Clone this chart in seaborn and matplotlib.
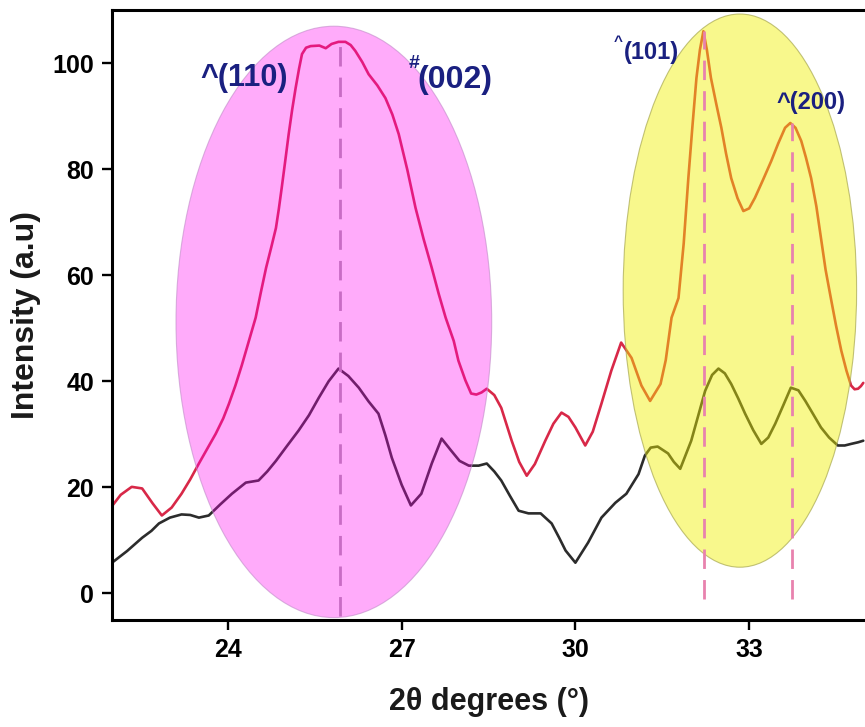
import numpy as np
import pandas as pd
import matplotlib
matplotlib.use("Agg")
import matplotlib.pyplot as plt
from matplotlib.patches import Ellipse
import seaborn as sns

# upper (red) pattern
red_x = [21.98, 22.15, 22.34, 22.52, 22.70, 22.86, 23.03, 23.20, 23.35, 23.50, 23.65, 23.79, 23.92,
         24.02, 24.13, 24.24, 24.36, 24.48, 24.57, 24.66, 24.75, 24.83, 24.88, 24.93, 24.99, 25.05,
         25.11, 25.17, 25.23, 25.28, 25.35, 25.43, 25.58, 25.69, 25.79, 25.91, 26.03, 26.12, 26.20,
         26.32, 26.43, 26.58, 26.72, 26.84, 26.95, 27.10, 27.24, 27.38, 27.52, 27.64, 27.76, 27.90,
         27.98, 28.10, 28.20, 28.29, 28.38, 28.47, 28.60, 28.72, 28.90, 29.03, 29.16, 29.30, 29.48,
         29.62, 29.76, 29.88, 30.00, 30.17, 30.30, 30.45, 30.62, 30.79, 30.97, 31.14, 31.29, 31.47,
         31.56, 31.66, 31.78, 31.87, 31.95, 32.02, 32.09, 32.15, 32.21, 32.27, 32.34, 32.43, 32.52,
         32.60, 32.69, 32.80, 32.90, 33.00, 33.10, 33.24, 33.38, 33.50, 33.62, 33.71, 33.80, 33.90,
         33.98, 34.07, 34.16, 34.24, 34.32, 34.41, 34.50, 34.59, 34.68, 34.76, 34.82, 34.88, 34.93,
         34.97]
red_y = [16.2, 18.6, 20.1, 19.8, 17.0, 14.7, 16.2, 18.8, 21.5, 24.5, 27.4, 30.1, 33.0,
         35.8, 39.2, 43.0, 47.5, 52.0, 56.8, 61.4, 65.3, 68.9, 72.5, 76.5, 81.5, 86.6,
         91.2, 95.3, 99.0, 101.7, 102.9, 103.2, 103.3, 102.8, 103.6, 104.0, 104.0, 103.4, 102.3,
         100.2, 97.9, 95.8, 93.4, 90.3, 86.6, 79.8, 72.7, 66.8, 61.4, 56.5, 52.0, 47.6,
         43.9, 40.2, 37.7, 37.5, 37.9, 38.6, 37.4, 35.0, 28.8, 24.8, 22.2, 24.4, 28.8,
         32.0, 34.1, 33.3, 31.3, 27.9, 30.5, 35.8, 42.0, 47.3, 44.4, 39.2, 36.3, 39.5,
         44.0, 52.0, 55.7, 66.0, 78.3, 88.0, 97.2, 102.5, 106.0, 102.5, 97.2, 92.4, 87.8,
         83.0, 78.3, 74.5, 72.1, 72.6, 74.6, 78.0, 81.5, 84.8, 87.8, 88.7, 87.8, 85.3,
         82.2, 78.3, 73.0, 67.0, 61.0, 55.7, 50.5, 45.8, 42.0, 39.2, 38.5, 38.6, 39.1,
         39.7]

# lower (black) pattern
black_x = [22.00, 22.26, 22.52, 22.68, 22.81, 23.00, 23.20, 23.35, 23.50, 23.67, 23.87, 24.07, 24.31,
           24.53, 24.68, 24.83, 25.02, 25.22, 25.40, 25.57, 25.74, 25.91, 26.08, 26.26, 26.43, 26.60,
           26.72, 26.83, 27.00, 27.16, 27.34, 27.52, 27.69, 27.85, 28.00, 28.16, 28.33, 28.47, 28.60,
           28.72, 28.87, 29.02, 29.19, 29.40, 29.59, 29.72, 29.83, 30.00, 30.22, 30.45, 30.69, 30.88,
           31.09, 31.20, 31.30, 31.42, 31.60, 31.70, 31.81, 32.00, 32.12, 32.24, 32.36, 32.47, 32.58,
           32.69, 32.81, 32.93, 33.07, 33.21, 33.33, 33.45, 33.59, 33.72, 33.85, 33.97, 34.10, 34.24,
           34.38, 34.53, 34.65, 34.76, 34.88, 34.97]
black_y = [5.8, 8.0, 10.5, 11.8, 13.2, 14.3, 14.9, 14.8, 14.3, 14.7, 16.8, 18.8, 20.9,
           21.3, 23.0, 25.0, 27.8, 30.7, 33.6, 36.9, 40.0, 42.4, 41.0, 38.8, 36.2, 33.9,
           29.8, 25.6, 20.5, 16.6, 18.8, 24.5, 29.2, 27.0, 25.0, 24.1, 24.1, 24.5, 23.0,
           21.3, 18.4, 15.6, 15.1, 15.1, 13.2, 10.5, 8.1, 5.8, 9.6, 14.3, 17.1, 18.8,
           22.5, 26.0, 27.5, 27.7, 26.4, 24.8, 23.5, 28.8, 33.5, 38.2, 41.2, 42.4, 41.5,
           39.5, 36.8, 33.9, 30.8, 28.2, 29.4, 32.0, 35.5, 38.8, 38.3, 36.3, 33.9, 31.3,
           29.4, 27.9, 27.9, 28.2, 28.5, 28.8]

peak_labels = ["^(110)", "#", "(002)", "^", "(101)", "^(200)"]
peak_lines = [25.93, 32.22, 33.74]

red_df = pd.DataFrame({"two_theta": red_x, "intensity": red_y})
black_df = pd.DataFrame({"two_theta": black_x, "intensity": black_y})

sns.set_theme(style="ticks")
plt.rcParams["font.family"] = ["Liberation Sans", "DejaVu Sans"]
plt.rcParams["font.weight"] = "bold"
plt.rcParams["lines.solid_joinstyle"] = "round"

fig = plt.figure(figsize=(8.65, 7.27), dpi=100)
ax = fig.add_axes([0.1295, 0.1472, 0.8705, 0.839])

sns.lineplot(data=red_df, x="two_theta", y="intensity", color="#d82848", lw=1.9,
             estimator=None, sort=False, ax=ax, zorder=2)
sns.lineplot(data=black_df, x="two_theta", y="intensity", color="#2c2c2c", lw=1.9,
             estimator=None, sort=False, ax=ax, zorder=2)

# shaded regions over the peaks
ax.add_patch(Ellipse((25.83, 51.2), 5.45, 111.5, facecolor="#ff00f0", alpha=0.33,
                     edgecolor="none", zorder=3))
ax.add_patch(Ellipse((25.83, 51.2), 5.45, 111.5, facecolor="none", edgecolor="#c08ac8",
                     lw=0.8, alpha=0.6, zorder=3))
ax.add_patch(Ellipse((32.84, 57.1), 4.03, 104.3, facecolor="#f0f000", alpha=0.45,
                     edgecolor="none", zorder=3))
ax.add_patch(Ellipse((32.84, 57.1), 4.03, 104.3, facecolor="none", edgecolor="#a8a850",
                     lw=0.8, alpha=0.7, zorder=3))

# dashed peak markers
ax.plot([peak_lines[0]] * 2, [-4.2, 103.8], color="#c86cc4", lw=2.0, dashes=(7, 4), zorder=4)
ax.plot([peak_lines[1]] * 2, [-1.0, 106.0], color="#e882ae", lw=2.0, dashes=(7, 4), zorder=4)
ax.plot([peak_lines[2]] * 2, [-1.0, 88.7], color="#e882ae", lw=2.0, dashes=(7, 4), zorder=4)

lab_col = "#1a2080"
ax.text(23.53, 97.2, peak_labels[0], color=lab_col, fontsize=22, fontweight="bold",
        ha="left", va="center", zorder=5)
ax.text(27.12, 99.9, peak_labels[1], color=lab_col, fontsize=14, fontweight="bold",
        ha="left", va="center", zorder=5)
ax.text(27.27, 96.8, peak_labels[2], color=lab_col, fontsize=23, fontweight="bold",
        ha="left", va="center", zorder=5)
ax.text(30.66, 104.0, peak_labels[3], color=lab_col, fontsize=11, fontweight="bold",
        ha="left", va="center", zorder=5)
ax.text(30.83, 101.9, peak_labels[4], color=lab_col, fontsize=17, fontweight="bold",
        ha="left", va="center", zorder=5)
ax.text(33.47, 92.5, peak_labels[5], color=lab_col, fontsize=17, fontweight="bold",
        ha="left", va="center", zorder=5)

ax.set_xlim(22, 35)
ax.set_ylim(-5, 110)
ax.set_xticks([24, 27, 30, 33])
ax.set_yticks([0, 20, 40, 60, 80, 100])
ax.set_xlabel("2θ degrees (°)", fontsize=22, fontweight="bold", color="#1a1a1a", labelpad=18)
ax.set_ylabel("Intensity (a.u)", fontsize=23, fontweight="bold", color="#1a1a1a", labelpad=8)
ax.tick_params(axis="both", direction="out", length=7, width=1.7, labelsize=18, pad=6,
               colors="black")
for lbl in ax.get_xticklabels() + ax.get_yticklabels():
    lbl.set_fontweight("bold")
for side in ["left", "bottom", "top"]:
    ax.spines[side].set_linewidth(2.2)
    ax.spines[side].set_color("black")
ax.spines["right"].set_visible(False)

fig.savefig("out.png", dpi=100)
